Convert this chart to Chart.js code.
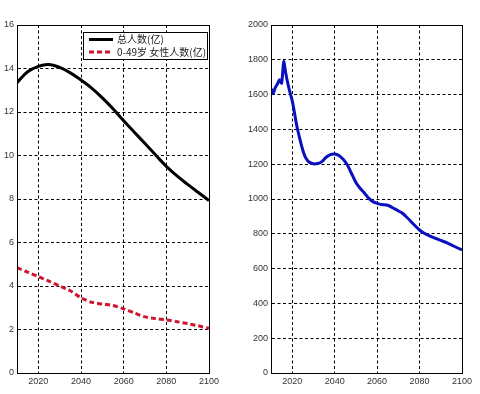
<!DOCTYPE html>
<html>
<head>
<meta charset="utf-8">
<script src="https://cdn.jsdelivr.net/npm/chart.js@4/dist/chart.umd.min.js"></script>
<style>
  html, body { margin: 0; padding: 0; background: #fff; }
  #wrap { position: relative; width: 480px; height: 394px; overflow: hidden; }
  .c { position: absolute; top: 0; }
</style>
</head>
<body>
<div id="wrap">
  <div class="c" style="left:0;width:240px;height:394px"><canvas id="left"></canvas></div>
  <div class="c" style="left:240px;width:240px;height:394px"><canvas id="right"></canvas></div>
</div>
<script>
// ---------- data ----------
const popYears = [2010,2015,2020,2025,2030,2035,2040,2045,2050,2055,2060,2065,2070,2075,2080,2085,2090,2095,2100];
const totalPop = [13.35,13.85,14.1,14.18,14.05,13.8,13.47,13.1,12.65,12.15,11.6,11.07,10.55,10.02,9.5,9.06,8.67,8.3,7.93];
const femalePop = [4.84,4.64,4.43,4.22,4.0,3.78,3.46,3.25,3.17,3.1,2.95,2.76,2.58,2.5,2.44,2.36,2.27,2.17,2.05];

const birthYears = [2010,2011,2012,2013,2014,2015,2016,2017,2018,2019,2020,2021,2022,2023,2024,2025,2026,2027,2028,2030,2032,2034,2036,2038,2040,2042,2044,2046,2048,2050,2052,2054,2056,2058,2060,2062,2065,2068,2070,2072,2074,2076,2078,2080,2082,2085,2088,2090,2093,2096,2100];
const births = [1635,1605,1640,1660,1685,1665,1790,1720,1660,1610,1565,1500,1430,1375,1325,1280,1245,1225,1212,1202,1204,1215,1240,1255,1258,1250,1228,1195,1145,1095,1062,1035,1005,985,975,968,964,945,932,918,895,870,845,822,805,787,772,762,748,730,707];

const xTicks = [2020,2040,2060,2080,2100];
const popTicks = [0,2,4,6,8,10,12,14,16];
const birthTicks = [0,200,400,600,800,1000,1200,1400,1600,1800,2000];

const labels = {
  total: '总人数(亿)',
  female: '0-49岁 女性人数(亿)',
  births: '每年出生婴儿数(万)'
};

// ---------- helpers ----------
const pts = (xs, ys) => xs.map((x, i) => ({ x: x, y: ys[i] }));
const tickFont = { family: 'Liberation Sans, Arial, sans-serif', size: 9 };
const tickColor = '#333';

const boxPlugin = {
  id: 'box',
  afterDraw(chart) {
    const a = chart.chartArea, ctx = chart.ctx;
    ctx.save();
    ctx.strokeStyle = '#000';
    ctx.lineWidth = 1;
    ctx.setLineDash([]);
    ctx.strokeRect(Math.round(a.left) + 0.5, Math.round(a.top) + 0.5,
                   Math.round(a.right - a.left), Math.round(a.bottom - a.top));
    // legend
    const lg = chart.options.plugins.matLegend;
    if (lg) {
      ctx.font = lg.font;
      ctx.letterSpacing = lg.spacing + 'px';
      ctx.fillStyle = '#fff';
      ctx.fillRect(lg.x, lg.y, lg.w, lg.h);
      ctx.strokeStyle = '#000';
      ctx.lineWidth = 1;
      ctx.strokeRect(lg.x + 0.5, lg.y + 0.5, lg.w, lg.h);
      chart.data.datasets.forEach((ds, i) => {
        const yy = lg.y + lg.first + i * lg.row;
        ctx.strokeStyle = ds.borderColor;
        ctx.lineWidth = ds.borderWidth;
        ctx.setLineDash(ds.borderDash || []);
        ctx.beginPath();
        ctx.moveTo(lg.x + lg.lx1, yy);
        ctx.lineTo(lg.x + lg.lx2, yy);
        ctx.stroke();
        ctx.setLineDash([]);
        ctx.fillStyle = '#222';
        ctx.textBaseline = 'middle';
        ctx.fillText(ds.label, lg.x + lg.tx, yy);
      });
    }
    ctx.restore();
  }
};

function makeChart(id, datasets, yMax, yTicks, yWidth, padRight, legend) {
  return new Chart(document.getElementById(id), {
    type: 'line',
    data: { datasets: datasets },
    plugins: [boxPlugin],
    options: {
      responsive: true,
      maintainAspectRatio: false,
      animation: false,
      layout: { padding: { left: 0, right: padRight, top: 25, bottom: 0 } },
      plugins: { legend: { display: false }, tooltip: { enabled: false }, matLegend: legend },
      elements: { point: { radius: 0 } },
      scales: {
        x: {
          type: 'linear', min: 2010, max: 2100,
          afterBuildTicks: s => { s.ticks = xTicks.map(v => ({ value: v })); },
          afterFit: s => { s.height = 21; },
          ticks: { font: tickFont, color: tickColor, padding: 3, maxRotation: 0, callback: v => String(v) },
          grid: { color: '#000', lineWidth: 1, drawTicks: false },
          border: { display: true, color: '#000', dash: [3, 2.5] }
        },
        y: {
          min: 0, max: yMax,
          afterBuildTicks: s => { s.ticks = yTicks.map(v => ({ value: v })); },
          afterFit: s => { s.width = yWidth; },
          ticks: { font: tickFont, color: tickColor, padding: 3, callback: v => String(v) },
          grid: { color: '#000', lineWidth: 1, drawTicks: false },
          border: { display: true, color: '#000', dash: [3, 2.5] }
        }
      }
    }
  });
}

makeChart('left', [
  { label: labels.total, data: pts(popYears, totalPop), borderColor: '#000', borderWidth: 3,
    tension: 0.4, fill: false },
  { label: labels.female, data: pts(popYears, femalePop), borderColor: '#d0142c', borderWidth: 3,
    borderDash: [5, 3], tension: 0.3, fill: false }
], 16, popTicks, 17, 31,
  { x: 83, y: 32, w: 124, h: 27, first: 7.5, row: 12.5, lx1: 6, lx2: 30, tx: 34,
    font: '10px "Noto Sans CJK SC", sans-serif', spacing: 0 });

makeChart('right', [
  { label: labels.births, data: pts(birthYears, births), borderColor: '#0a0fc0', borderWidth: 3,
    tension: 0.2, fill: false }
], 2000, birthTicks, 31, 18,
  { x: 328, y: 39, w: 129, h: 15, first: 7.5, row: 12, lx1: 6, lx2: 31, tx: 33,
    font: '10px "Noto Sans CJK SC", sans-serif', spacing: 1.4 });
</script>
</body>
</html>
